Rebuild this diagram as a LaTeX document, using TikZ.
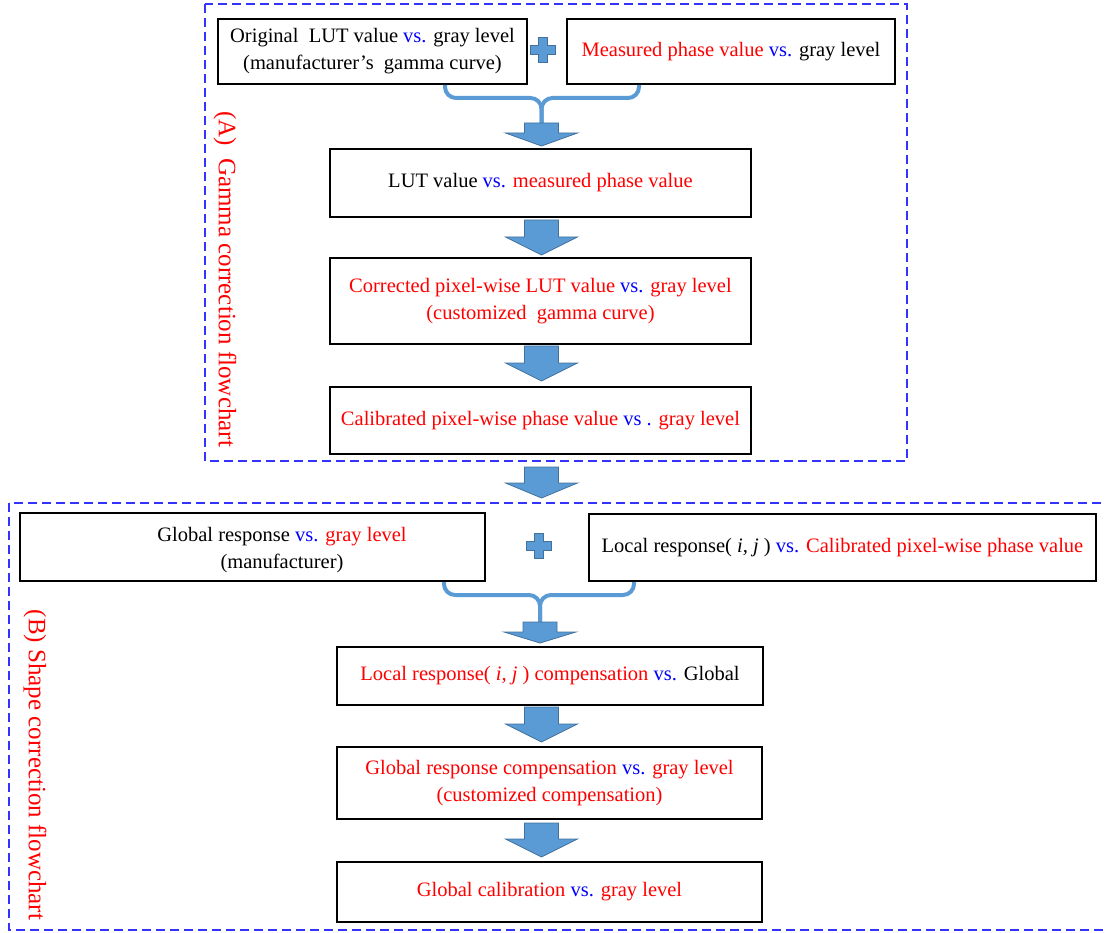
\documentclass[tikz,border=0pt]{standalone}
\usepackage{fontspec}
\setmainfont{Liberation Serif}
\usetikzlibrary{calc}
\definecolor{tred}{RGB}{255,0,0}
\definecolor{tblue}{RGB}{0,0,255}
\definecolor{dashblue}{RGB}{51,51,255}
\definecolor{afill}{RGB}{91,155,213}
\definecolor{aline}{RGB}{65,113,156}
\newcommand{\redt}[1]{\textcolor{tred}{#1}}
\newcommand{\vsb}{\textcolor{tblue}{vs.}}
\newcommand{\barrow}[4]{% #1 cx, #2 shaft top, #3 head top, #4 tip
  \draw[blockarrow] ({#1-17},#2) -- ({#1+17},#2) -- ({#1+17},#3) -- ({#1+36},#3)
    -- (#1,#4) -- ({#1-36},#3) -- ({#1-17},#3) -- cycle;}
\newcommand{\plussign}[2]{% centre
  \draw[blockarrow] ({#1-4.5},{#2-12.5}) -- ({#1+4.5},{#2-12.5}) -- ({#1+4.5},{#2-4.5})
    -- ({#1+12.5},{#2-4.5}) -- ({#1+12.5},{#2+4.5}) -- ({#1+4.5},{#2+4.5})
    -- ({#1+4.5},{#2+12.5}) -- ({#1-4.5},{#2+12.5}) -- ({#1-4.5},{#2+4.5})
    -- ({#1-12.5},{#2+4.5}) -- ({#1-12.5},{#2-4.5}) -- ({#1-4.5},{#2-4.5}) -- cycle;}
\begin{document}
\begin{tikzpicture}[x=1pt,y=-1pt,
  box/.style={draw, line width=2pt, inner sep=0pt, align=center,
    font=\fontsize{20.5}{27}\selectfont},
  plain/.style={inner sep=0pt, align=center, font=\fontsize{20.5}{27}\selectfont},
  dashbox/.style={draw=dashblue, line width=2.5pt, dash pattern=on 9pt off 5pt},
  blockarrow/.style={fill=afill, draw=aline, line width=0.8pt},
  brace/.style={draw=afill, line width=4pt, rounded corners=11pt},
  vlabel/.style={rotate=-90, text=tred, inner sep=0pt, font=\fontsize{25}{29}\selectfont}]
\useasboundingbox (0,0) rectangle (1106,933);
\clip (0,0) rectangle (1106,933);

% dashed frames
\draw[dashbox] (205,4) rectangle (907,461);
\draw[dashbox] (9,503) rectangle (1115,930);

% vertical labels
\node[vlabel] (la) at (225,279) {(A)\ \ Gamma correction flowchart};
\node[vlabel] (lb) at (35,765) {(B)\ Shape correction flowchart};

% part A boxes
\node[box, minimum width=309pt, minimum height=65pt] (b1) at (372.5,51.5)
  {Original\ \ LUT value \vsb{} gray level\\(manufacturer’s\ \ gamma curve)};
\node[box, minimum width=328pt, minimum height=65pt] (b2) at (731,51.5)
  {\redt{Measured phase value} \vsb{} gray level};
\node[box, minimum width=421pt, minimum height=68pt] (b3) at (540.5,183)
  {LUT value \vsb{} \redt{measured phase value}};
\node[box, minimum width=421pt, minimum height=86pt] (b4) at (540.5,301)
  {\redt{Corrected pixel-wise LUT value} \vsb{} \redt{gray level}\\\redt{(customized\ \ gamma curve)}};
\node[box, minimum width=421pt, minimum height=67pt] (b5) at (540.5,420.5)
  {\redt{Calibrated pixel-wise phase value} \textcolor{tblue}{vs} \textcolor{tblue}{.} \redt{gray level}};

% part B boxes
\node[box, minimum width=465pt, minimum height=68pt] (b6) at (252.5,547) {};
\node[plain] (t6) at (282,550) {Global response \vsb{} \redt{gray level}\\(manufacturer)};
\node[box, minimum width=507pt, minimum height=67pt] (b7) at (842.5,547.5)
  {Local response( \textit{i, j} ) \vsb{} \redt{Calibrated pixel-wise phase value}};
\node[box, minimum width=426pt, minimum height=58pt] (b8) at (550,676)
  {\redt{Local response( \textit{i, j} ) compensation} \vsb{} Global};
\node[box, minimum width=425pt, minimum height=72pt] (b9) at (549.5,783)
  {\redt{Global response compensation} \vsb{} \redt{gray level}\\\redt{(customized compensation)}};
\node[box, minimum width=425pt, minimum height=60pt] (b10) at (549.5,892)
  {\redt{Global calibration} \vsb{} \redt{gray level}};

% plus signs
\plussign{543}{50}
\plussign{539}{546}

% braces
\coordinate (m1) at (541.5,98);
\coordinate (s1) at (541.5,124);
\draw[brace] ($(b1.south east)+(-83,0)$) |- (m1) -- (s1);
\draw[brace] ($(b2.south west)+(73,0)$) |- (m1) -- (s1);
\coordinate (m2) at (540,595);
\coordinate (s2) at (540,623);
\draw[brace] ($(b6.south east)+(-42,0)$) |- (m2) -- (s2);
\draw[brace] ($(b7.south west)+(46,0)$) |- (m2) -- (s2);

% block arrows
\barrow{541.5}{123}{133}{146}
\barrow{541.5}{220}{237}{255}
\barrow{541.5}{346}{363}{381}
\barrow{541.5}{467}{483}{498}
\barrow{540}{622}{632}{643}
\barrow{541.5}{707}{724}{742}
\barrow{541.5}{823}{839}{857}
\end{tikzpicture}
\end{document}
